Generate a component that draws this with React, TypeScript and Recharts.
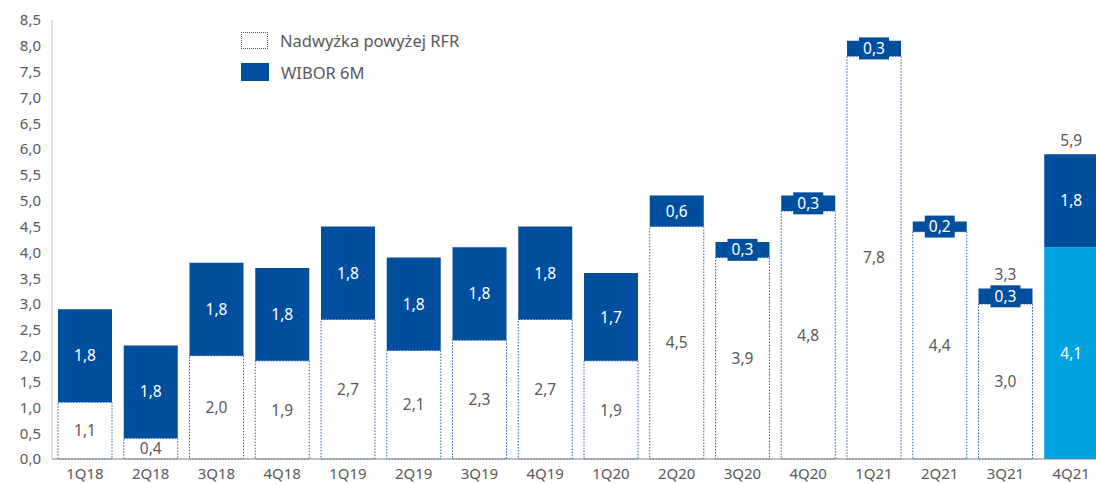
import { BarChart, Bar, XAxis, YAxis, Cell, LabelList } from "recharts";

const quarters = [
  "1Q18", "2Q18", "3Q18", "4Q18", "1Q19", "2Q19", "3Q19", "4Q19",
  "1Q20", "2Q20", "3Q20", "4Q20", "1Q21", "2Q21", "3Q21", "4Q21",
];
const surplus = [1.1, 0.4, 2.0, 1.9, 2.7, 2.1, 2.3, 2.7, 1.9, 4.5, 3.9, 4.8, 7.8, 4.4, 3.0, 4.1];
const wibor = [1.8, 1.8, 1.8, 1.8, 1.8, 1.8, 1.8, 1.8, 1.7, 0.6, 0.3, 0.3, 0.3, 0.2, 0.3, 1.8];
const totals: (number | null)[] = [
  null, null, null, null, null, null, null, null,
  null, null, null, null, null, null, 3.3, 5.9,
];
const yTicks = [0, 0.5, 1, 1.5, 2, 2.5, 3, 3.5, 4, 4.5, 5, 5.5, 6, 6.5, 7, 7.5, 8, 8.5];

const DARK = "#004f9f";
const CYAN = "#00a3e0";
const GRAY = "#595959";
const DOT = "#2f62ad";
const FONT = "'Noto Sans', sans-serif";

const data = quarters.map((q, i) => ({
  q,
  surplus: surplus[i],
  wibor: wibor[i],
  total: totals[i],
}));

const fmt = (v: number) => v.toFixed(1).replace(".", ",");

const segLabel = (color: (i: number) => string, boxed: boolean) => (props: any) => {
  const { x, y, width, height, value, index } = props;
  if (value == null) return null;
  const top = Math.min(y, y + height);
  const h = Math.abs(height);
  const cx = x + width / 2;
  const cy = top + h / 2;
  const small = boxed && h < 24;
  return (
    <g>
      {small && <rect x={cx - 15} y={cy - 11} width={30} height={22} fill={DARK} />}
      <text x={cx} y={cy} dy="0.36em" textAnchor="middle" fill={color(index)} fontSize={15.5} fontFamily={FONT}>
        {fmt(value)}
      </text>
    </g>
  );
};

const totalLabel = (props: any) => {
  const { x, y, width, height, value } = props;
  if (value == null) return null;
  const top = Math.min(y, y + height);
  return (
    <text x={x + width / 2} y={top - 14} dy="0.36em" textAnchor="middle" fill={GRAY} fontSize={15.5} fontFamily={FONT}>
      {fmt(value)}
    </text>
  );
};

function ChartLegend() {
  return (
    <div style={{ position: "absolute", left: 241, top: 24, fontFamily: FONT, fontSize: 16.5, color: GRAY }}>
      <div style={{ display: "flex", alignItems: "center", height: 32 }}>
        <span style={{ width: 25, height: 15, border: `1.5px dotted ${DOT}`, background: "#fff", marginRight: 12 }} />
        Nadwyżka powyżej RFR
      </div>
      <div style={{ display: "flex", alignItems: "center", height: 32 }}>
        <span style={{ width: 28, height: 18, background: DARK, marginRight: 12 }} />
        WIBOR 6M
      </div>
    </div>
  );
}

export default function App() {
  return (
    <div style={{ position: "absolute", left: 0, top: 0, width: 1096, height: 484, overflow: "hidden", background: "#fff" }}>
      <BarChart
        width={1104}
        height={484}
        data={data}
        margin={{ top: 20, right: 0, left: 0, bottom: 0 }}
        barSize={54}
      >
        <XAxis
          dataKey="q"
          height={25}
          tickLine={false}
          tickSize={0}
          tickMargin={9}
          axisLine={{ stroke: "#7f7f7f" }}
          tick={{ fill: GRAY, fontSize: 15, fontFamily: FONT }}
          interval={0}
        />
        <YAxis
          width={52}
          domain={[0, 8.5]}
          ticks={yTicks}
          interval={0}
          tickLine={false}
          tickSize={0}
          tickMargin={11}
          axisLine={{ stroke: "#bfbfbf" }}
          tick={{ fill: GRAY, fontSize: 15, fontFamily: FONT }}
          tickFormatter={fmt}
        />
        <Bar dataKey="surplus" stackId="a" isAnimationActive={false} name="Nadwyżka powyżej RFR">
          {data.map((d, i) =>
            i === data.length - 1 ? (
              <Cell key={d.q} fill={CYAN} />
            ) : (
              <Cell key={d.q} fill="#ffffff" stroke={DOT} strokeWidth={1} strokeDasharray="1.5 1.5" />
            )
          )}
          <LabelList
            dataKey="surplus"
            content={segLabel((i) => (i === data.length - 1 ? "#ffffff" : GRAY), false)}
          />
        </Bar>
        <Bar dataKey="wibor" stackId="a" fill={DARK} isAnimationActive={false} name="WIBOR 6M">
          <LabelList dataKey="wibor" content={segLabel(() => "#ffffff", true)} />
          <LabelList dataKey="total" content={totalLabel} />
        </Bar>
      </BarChart>
      <ChartLegend />
    </div>
  );
}
